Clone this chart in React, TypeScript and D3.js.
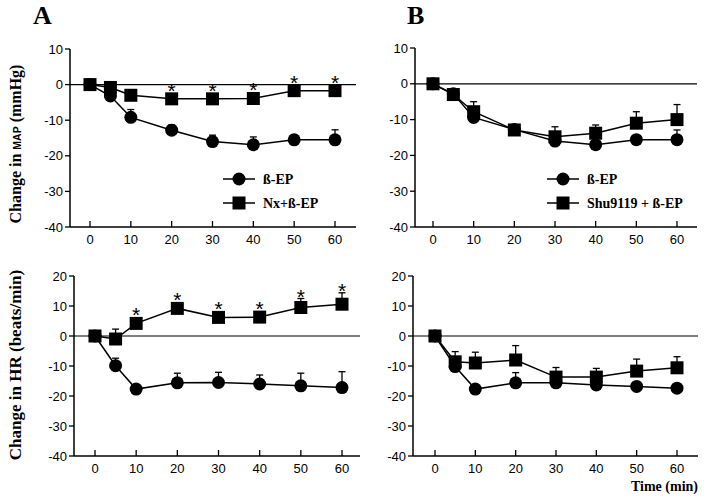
import React, { useEffect, useRef } from "react";
import * as d3 from "d3";

const times = [0, 5, 10, 20, 30, 40, 50, 60];
const xTicks = [0, 10, 20, 30, 40, 50, 60];
const mapTicks = [10, 0, -10, -20, -30, -40];
const hrTicks = [20, 10, 0, -10, -20, -30, -40];

// Panel A, MAP
const mapA_bEP = [0, -3.2, -9.2, -12.8, -16, -16.9, -15.5, -15.5];
const mapA_bEP_err = [0, 0, 2.2, 1.5, 1.8, 2.2, 1.3, 2.8];
const mapA_nx = [0, -0.8, -3, -4, -4, -3.9, -1.7, -1.7];
const mapA_nx_err = [0, 0, 0, 0, 0, 0, 0, 0];
const mapA_sig = [false, false, false, true, true, true, true, true];

// Panel B, MAP
const mapB_bEP = [0, -2.8, -9.4, -12.8, -16, -17, -15.6, -15.6];
const mapB_bEP_err = [0, 0, 0, 1.3, 0, 0, 0, 2.7];
const mapB_shu = [0, -3, -7.8, -12.9, -14.8, -13.8, -11, -10];
const mapB_shu_err = [0, 0, 2.8, 0, 2.8, 2.3, 3.2, 4.2];

// Panel A, HR
const hrA_bEP = [0, -9.9, -17.7, -15.6, -15.5, -16, -16.6, -17.2];
const hrA_bEP_err = [0, 2.5, 0, 3.2, 3.4, 3, 4.2, 5.3];
const hrA_nx = [0, -1, 4.2, 9.2, 6.2, 6.3, 9.5, 10.6];
const hrA_nx_err = [0, 3.3, 0, 0, 0, 0, 3, 3.8];
const hrA_sig = [false, false, true, true, true, true, true, true];

// Panel B, HR
const hrB_bEP = [0, -10.2, -17.7, -15.6, -15.6, -16.3, -16.8, -17.4];
const hrB_bEP_err = [0, 0, 0, 3.4, 0, 0, 0, 0];
const hrB_shu = [0, -8.6, -9, -8, -13.7, -13.7, -11.7, -10.6];
const hrB_shu_err = [0, 3.4, 3.6, 4.8, 3.2, 2.9, 4, 3.7];

const legendA = ["ß-EP", "Nx+ß-EP"];
const legendB = ["ß-EP", "Shu9119 + ß-EP"];

type Panel = {
  axisX: number; x0: number; x60: number; xEnd: number;
  yTop: number; yBot: number; domain: [number, number]; ticks: number[];
  circ: number[]; circErr: number[]; sq: number[]; sqErr: number[];
  sig?: boolean[]; legend?: string[]; legX?: number; legY?: number;
};

const panels: Panel[] = [
  { axisX: 70, x0: 90, x60: 335, xEnd: 356, yTop: 49, yBot: 227, domain: [-40, 10], ticks: mapTicks,
    circ: mapA_bEP, circErr: mapA_bEP_err, sq: mapA_nx, sqErr: mapA_nx_err, sig: mapA_sig,
    legend: legendA, legX: 223, legY: 179 },
  { axisX: 415, x0: 433, x60: 677, xEnd: 697, yTop: 48, yBot: 227, domain: [-40, 10], ticks: mapTicks,
    circ: mapB_bEP, circErr: mapB_bEP_err, sq: mapB_shu, sqErr: mapB_shu_err,
    legend: legendB, legX: 547, legY: 179 },
  { axisX: 74, x0: 95, x60: 342, xEnd: 360, yTop: 276, yBot: 456, domain: [-40, 20], ticks: hrTicks,
    circ: hrA_bEP, circErr: hrA_bEP_err, sq: hrA_nx, sqErr: hrA_nx_err, sig: hrA_sig },
  { axisX: 413, x0: 435, x60: 677, xEnd: 698, yTop: 276, yBot: 456, domain: [-40, 20], ticks: hrTicks,
    circ: hrB_bEP, circErr: hrB_bEP_err, sq: hrB_shu, sqErr: hrB_shu_err },
];

const SANS = "'Liberation Sans', Arial, sans-serif";
const SERIF = "'Liberation Serif', 'Times New Roman', serif";

export default function App() {
  const ref = useRef<SVGSVGElement>(null);
  useEffect(() => {
    const svg = d3.select(ref.current);
    svg.selectAll("*").remove();
    svg.append("rect").attr("width", 720).attr("height", 500).attr("fill", "#fff");

    panels.forEach((p) => {
      const x = d3.scaleLinear().domain([0, 60]).range([p.x0, p.x60]);
      const y = d3.scaleLinear().domain(p.domain).range([p.yBot, p.yTop]);
      const g = svg.append("g");

      // axes
      g.append("line").attr("x1", p.axisX).attr("x2", p.axisX).attr("y1", p.yTop).attr("y2", p.yBot)
        .attr("stroke", "#000").attr("stroke-width", 1.5);
      g.append("line").attr("x1", p.axisX).attr("x2", p.xEnd).attr("y1", p.yBot).attr("y2", p.yBot)
        .attr("stroke", "#000").attr("stroke-width", 1.5);
      g.append("line").attr("x1", p.axisX).attr("x2", p.xEnd).attr("y1", y(0)).attr("y2", y(0))
        .attr("stroke", "#000").attr("stroke-width", 1.2);

      p.ticks.forEach((t) => {
        g.append("line").attr("x1", p.axisX - 5).attr("x2", p.axisX).attr("y1", y(t)).attr("y2", y(t))
          .attr("stroke", "#000").attr("stroke-width", 1.3);
        g.append("text").attr("x", p.axisX - 7).attr("y", y(t)).attr("dy", "0.36em")
          .attr("text-anchor", "end").attr("font-family", SANS).attr("font-size", 13).text(String(t));
      });
      xTicks.forEach((t) => {
        g.append("line").attr("x1", x(t)).attr("x2", x(t)).attr("y1", p.yBot).attr("y2", p.yBot - 6)
          .attr("stroke", "#000").attr("stroke-width", 1.3);
        g.append("text").attr("x", x(t)).attr("y", p.yBot + 17)
          .attr("text-anchor", "middle").attr("font-family", SANS).attr("font-size", 13).text(String(t));
      });

      const line = d3.line<number>().x((_, i) => x(times[i])).y((d) => y(d));

      // error bars
      const drawErr = (vals: number[], errs: number[]) => {
        vals.forEach((v, i) => {
          if (!errs[i]) return;
          const cx = x(times[i]);
          g.append("line").attr("x1", cx).attr("x2", cx).attr("y1", y(v)).attr("y2", y(v + errs[i]))
            .attr("stroke", "#000").attr("stroke-width", 1.3);
          g.append("line").attr("x1", cx - 3.5).attr("x2", cx + 3.5).attr("y1", y(v + errs[i])).attr("y2", y(v + errs[i]))
            .attr("stroke", "#000").attr("stroke-width", 1.3);
        });
      };
      drawErr(p.circ, p.circErr);
      drawErr(p.sq, p.sqErr);

      g.append("path").attr("d", line(p.circ)).attr("fill", "none").attr("stroke", "#000").attr("stroke-width", 1.5);
      g.append("path").attr("d", line(p.sq)).attr("fill", "none").attr("stroke", "#000").attr("stroke-width", 1.5);

      p.circ.forEach((v, i) => {
        g.append("circle").attr("cx", x(times[i])).attr("cy", y(v)).attr("r", 6.5).attr("fill", "#000");
      });
      p.sq.forEach((v, i) => {
        g.append("rect").attr("x", x(times[i]) - 6.5).attr("y", y(v) - 6.5).attr("width", 13).attr("height", 13).attr("fill", "#000");
      });

      if (p.sig) {
        p.sig.forEach((s, i) => {
          if (!s) return;
          const cy = Math.min(y(p.sq[i]) - 13, y(p.sq[i] + p.sqErr[i]) - 7);
          g.append("text").attr("x", x(times[i])).attr("y", cy + 12).attr("text-anchor", "middle")
            .attr("font-family", SANS).attr("font-size", 21).text("*");
        });
      }

      if (p.legend) {
        const lx = p.legX!, ly = p.legY!;
        [0, 1].forEach((k) => {
          const yy = ly + k * 24;
          g.append("line").attr("x1", lx).attr("x2", lx + 32).attr("y1", yy).attr("y2", yy)
            .attr("stroke", "#000").attr("stroke-width", 1.5);
          if (k === 0) g.append("circle").attr("cx", lx + 16).attr("cy", yy).attr("r", 6.5).attr("fill", "#000");
          else g.append("rect").attr("x", lx + 9.5).attr("y", yy - 6.5).attr("width", 13).attr("height", 13).attr("fill", "#000");
          g.append("text").attr("x", lx + 40).attr("y", yy).attr("dy", "0.35em")
            .attr("font-family", SERIF).attr("font-weight", "bold").attr("font-size", 14).text(p.legend![k]);
        });
      }
    });

    // panel letters
    svg.append("text").attr("x", 33).attr("y", 24).attr("font-family", SERIF).attr("font-weight", "bold")
      .attr("font-size", 26).text("A");
    svg.append("text").attr("x", 407).attr("y", 24).attr("font-family", SERIF).attr("font-weight", "bold")
      .attr("font-size", 26).text("B");

    // y labels
    const yl1 = svg.append("text").attr("transform", "translate(21,144) rotate(-90)").attr("text-anchor", "middle")
      .attr("font-family", SERIF).attr("font-weight", "bold").attr("font-size", 16);
    yl1.append("tspan").text("Change in ");
    yl1.append("tspan").attr("font-family", SANS).attr("font-size", 10.5).text("MAP");
    yl1.append("tspan").text(" (mmHg)");
    svg.append("text").attr("transform", "translate(21,365) rotate(-90)").attr("text-anchor", "middle")
      .attr("font-family", SERIF).attr("font-weight", "bold").attr("font-size", 17).text("Change in HR (beats/min)");

    svg.append("text").attr("x", 698).attr("y", 491).attr("text-anchor", "end")
      .attr("font-family", SERIF).attr("font-weight", "bold").attr("font-size", 14).text("Time (min)");
  }, []);

  return (
    <svg ref={ref} width={720} height={500} style={{ position: "absolute", left: 0, top: 0 }} />
  );
}
